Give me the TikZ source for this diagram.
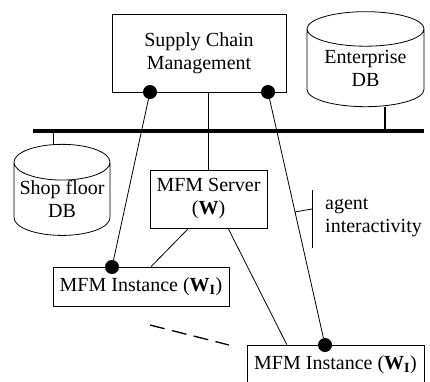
\documentclass[tikz,border=0pt]{standalone}
\usepackage{fontspec}
\setmainfont{Liberation Serif}
\usetikzlibrary{calc,positioning,shapes.geometric}
\tikzset{%
	box/.style   = {draw, rectangle, line width=0.8pt, inner sep=0pt, align=center},
	dbase/.style = {draw, cylinder, shape border rotate=90, aspect=0.42, line width=0.8pt, inner sep=0pt, align=center},
	dot/.style   = {circle, fill=black, minimum size=14pt, inner sep=0pt},
	bus/.style   = {line width=4.5pt},
	link/.style  = {line width=0.8pt},
}
\begin{document}
\begin{tikzpicture}[x=1pt,y=-1pt,font=\fontsize{20}{23}\selectfont]
\useasboundingbox (0,0) rectangle (430,381);
\node[box, minimum width=174pt, minimum height=78pt] (scm) at (199,53) {Supply Chain\\Management};
\node[box, minimum width=117pt, minimum height=58pt] (server) at (208.5,199) {MFM Server\\(\textbf{W})};
\node[box, minimum width=176pt, minimum height=39pt] (inst1) at (141,286.5) {MFM Instance (\textbf{W}\textsubscript{\textbf{I}})};
\node[box, minimum width=177pt, minimum height=40pt] (inst2) at (335.5,365) {MFM Instance (\textbf{W}\textsubscript{\textbf{I}})};
\node[dbase, minimum width=117pt, minimum height=95pt] (edb) at (365.5,68) {Enterprise\\DB};
\node[dbase, minimum width=96pt, minimum height=80pt] (sdb) at (62,199) {Shop floor\\DB};
\node[dot] (d1) at (150,92) {};
\node[dot] (d2) at (268,92) {};
\node[dot] (d3) at (112,267) {};
\node[dot] (d4) at (325,345) {};
\coordinate (busL) at (33,131);
\coordinate (busR) at (424,131);
\coordinate (edbfoot) at (385,131);
\coordinate (sdbfoot) at (53,131);
\draw[bus] (busL) -- (busR);
\draw[line width=2.5pt] (edbfoot) -- (edbfoot |- edb.south);
\draw[link] (sdbfoot) -- (sdbfoot |- sdb.north);
\draw[link] (server.north |- scm.south) -- (server.north);
\draw[link] (d1) -- (d3);
\draw[link] (d2) -- (d4);
\draw[link] ($(server.south west)!0.33!(server.south east)$) -- ($(inst1.north west)!0.557!(inst1.north east)$);
\draw[link] ($(server.south west)!0.667!(server.south east)$) -- ($(inst2.north west)!0.226!(inst2.north east)$);
\coordinate (dashA) at (150,325);
\coordinate (dashB) at (229,345);
\draw[link, line width=1.3pt, dash pattern=on 15pt off 7.5pt] (dashA) -- (dashB);
\coordinate (barT) at (312,190);
\coordinate (barB) at (312,248);
\draw[link] (barT) -- (barB);
\draw[link] ($(d2)!0.474!(d4)$) -- (barT |- 0,209);
\node[anchor=west, align=left, inner sep=0pt] (agent) at (325,218) {agent\\interactivity};
\end{tikzpicture}
\end{document}
